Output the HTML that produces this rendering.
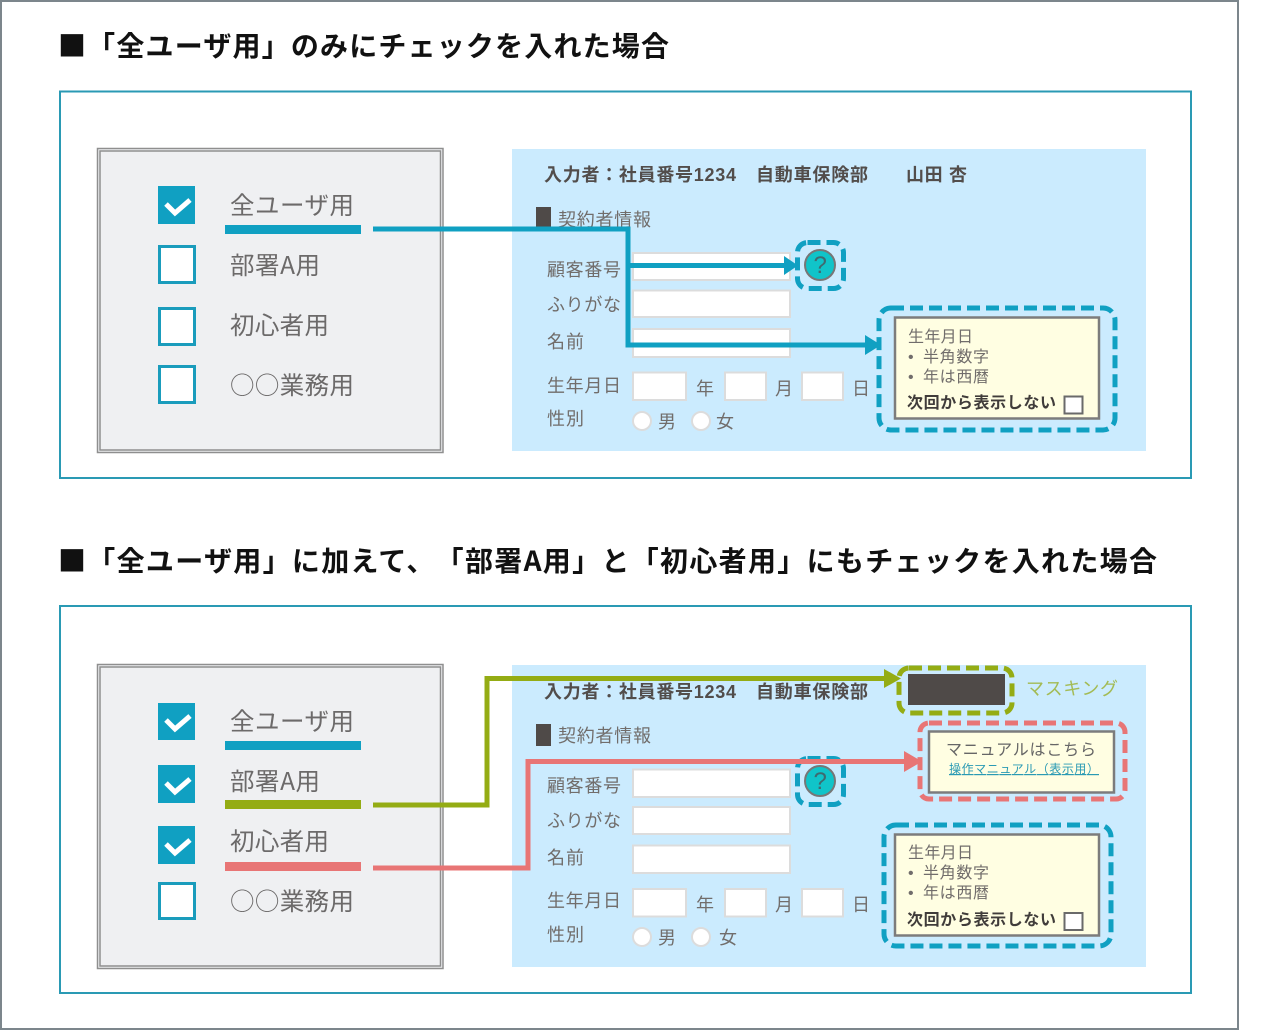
<!DOCTYPE html>
<html lang="ja"><head><meta charset="utf-8"><style>
html,body{margin:0;padding:0;background:#fff}
svg{display:block}
text{font-family:"Liberation Sans","Noto Sans CJK JP",sans-serif;fill:#6a6664;text-spacing-trim:space-all}
.h{font-family:"Noto Sans CJK JP","Liberation Sans",sans-serif;font-size:28px;font-weight:700;fill:#111}
.l{font-family:"Noto Sans CJK JP","Liberation Sans",sans-serif;font-size:24.5px;fill:#6c6a6a}
.t{font-size:18px;fill:#716d6b}
.b{font-size:18px;font-weight:700;fill:#524d4b}
.s{font-size:16px;fill:#716d6b}
.sb{font-size:16px;font-weight:700;fill:#403c3a}
.i{fill:#fff;stroke:#dcdcdc;stroke-width:2}
.c{fill:#fff;stroke:#1a9cbc;stroke-width:3}
.f{fill:#10a0c2}
.k{fill:none;stroke:#fff;stroke-width:5}
.d{fill:none;stroke-width:5;stroke-dasharray:13 6}
.n{fill:none;stroke-width:5}
.y{fill:#fffee2;stroke:#7c7c7c;stroke-width:2.500}
.q{fill:#10c4c9;stroke:#777;stroke-width:2}
.r{fill:#fff;stroke:#dcdcdc;stroke-width:2}
.m{font-size:24px;fill:#3f6a70}
</style></head><body>
<svg width="1264" height="1030" viewBox="0 0 1264 1030" xmlns="http://www.w3.org/2000/svg">
<rect width="1264" height="1030" fill="#fff"/>
<rect x="1" y="1" width="1237" height="1028" fill="none" stroke="#7c868c" stroke-width="2"/>

<text class="h" x="58" y="56" textLength="611" lengthAdjust="spacing">■「全ユーザ用」のみにチェックを入れた場合</text>
<rect x="60" y="91.500" width="1131" height="386.500" fill="#fff" stroke="#2a9ab4" stroke-width="2"/>

<!-- panel 1 left -->
<rect x="97.500" y="148.500" width="345.500" height="304" fill="#eff0f2" stroke="#8f8f8f" stroke-width="1.500"/>
<rect x="100" y="151" width="340.500" height="299" fill="none" stroke="#8f8f8f" stroke-width="1.500"/>
<rect class="f" x="158" y="186" width="37" height="38"/>
<path class="k" d="M166 204l9 9 15-13"/>
<rect class="c" x="159.500" y="246.500" width="35" height="36"/>
<rect class="c" x="159.500" y="308.500" width="35" height="36"/>
<rect class="c" x="159.500" y="366.500" width="35" height="36"/>
<text class="l" x="230" y="214" textLength="124" lengthAdjust="spacing">全ユーザ用</text>
<text class="l" x="230" y="274" textLength="90" lengthAdjust="spacing">部署A用</text>
<text class="l" x="230" y="334" textLength="99" lengthAdjust="spacing">初心者用</text>
<text class="l" x="230" y="394" textLength="124" lengthAdjust="spacing">○○業務用</text>
<rect class="f" x="225" y="225" width="136" height="9"/>

<!-- panel 1 right -->
<rect x="512" y="149" width="634" height="302" fill="#cbebfe"/>
<text class="b" x="544" y="181" textLength="192" lengthAdjust="spacing">入力者：社員番号1234</text>
<text class="b" x="756" y="181" textLength="112" lengthAdjust="spacing">自動車保険部</text>
<text class="b" x="906" y="181" textLength="61" lengthAdjust="spacing">山田 杏</text>
<rect x="536" y="207" width="15" height="21" fill="#4f4a48"/>
<text class="t" x="558" y="226" textLength="93" lengthAdjust="spacing">契約者情報</text>
<rect class="i" x="633" y="253" width="157" height="27"/>
<rect class="i" x="633" y="290.500" width="157" height="26.500"/>
<rect class="i" x="633" y="329" width="157" height="28"/>
<rect class="i" x="633" y="372.500" width="53" height="27.500"/>
<rect class="i" x="725" y="372.500" width="41" height="27.500"/>
<rect class="i" x="802" y="372.500" width="41" height="27.500"/>
<text class="t" x="547" y="276" textLength="74" lengthAdjust="spacing">顧客番号</text>
<text class="t" x="547" y="311" textLength="74" lengthAdjust="spacing">ふりがな</text>
<text class="t" x="547" y="348" textLength="37" lengthAdjust="spacing">名前</text>
<text class="t" x="547" y="392" textLength="74" lengthAdjust="spacing">生年月日</text>
<text class="t" x="547" y="425" textLength="37" lengthAdjust="spacing">性別</text>
<text class="t" x="696" y="395">年</text>
<text class="t" x="775" y="395">月</text>
<text class="t" x="852" y="395">日</text>
<circle class="r" cx="642" cy="421" r="9"/>
<circle class="r" cx="701" cy="421" r="9"/>
<text class="t" x="658" y="428">男</text>
<text class="t" x="716" y="428">女</text>
<rect class="d" x="797.500" y="242.500" width="46" height="46" rx="10" stroke="#10a0c2"/>
<ellipse class="q" cx="820" cy="265" rx="15" ry="15"/>
<text class="m" x="813.500" y="273">?</text>
<rect class="d" x="879" y="308" width="236" height="122" rx="12" stroke="#10a0c2"/>
<rect class="y" x="895" y="317.500" width="204" height="101"/>
<text class="s" x="908" y="342" textLength="65" lengthAdjust="spacing">生年月日</text>
<text class="s" x="908" y="362">•</text><text class="s" x="923" y="362" textLength="66" lengthAdjust="spacing">半角数字</text>
<text class="s" x="908" y="382">•</text><text class="s" x="923" y="382" textLength="66" lengthAdjust="spacing">年は西暦</text>
<text class="sb" x="907" y="408" textLength="149" lengthAdjust="spacing">次回から表示しない</text>
<rect x="1064.500" y="396.500" width="18" height="17" fill="#fff" stroke="#6a6a6a" stroke-width="2"/>

<path class="n" stroke="#10a0c2" d="M373 229H628V345H866"/>
<path class="n" stroke="#10a0c2" d="M628 265.500H786"/>
<path class="f" d="M784 256l14 9.500-14 9.500z"/>
<path class="f" d="M865 335l16 10-16 10z"/>

<!-- panel 2 -->
<text class="h" x="58" y="571" textLength="1099" lengthAdjust="spacing">■「全ユーザ用」に加えて、「部署A用」と「初心者用」にもチェックを入れた場合</text>
<rect x="60" y="606" width="1131" height="387" fill="#fff" stroke="#2a9ab4" stroke-width="2"/>

<rect x="97.500" y="664.500" width="345.500" height="304" fill="#eff0f2" stroke="#8f8f8f" stroke-width="1.500"/>
<rect x="100" y="667" width="340.500" height="299" fill="none" stroke="#8f8f8f" stroke-width="1.500"/>
<rect class="f" x="158" y="703" width="37" height="37"/>
<path class="k" d="M166 720l9 9 15-13"/>
<rect class="f" x="158" y="765" width="37" height="38"/>
<path class="k" d="M166 783l9 9 15-13"/>
<rect class="f" x="158" y="826" width="37" height="38"/>
<path class="k" d="M166 844l9 9 15-13"/>
<rect class="c" x="159.500" y="883.500" width="35" height="35"/>
<text class="l" x="230" y="730" textLength="124" lengthAdjust="spacing">全ユーザ用</text>
<text class="l" x="230" y="790" textLength="90" lengthAdjust="spacing">部署A用</text>
<text class="l" x="230" y="850" textLength="99" lengthAdjust="spacing">初心者用</text>
<text class="l" x="230" y="910" textLength="124" lengthAdjust="spacing">○○業務用</text>
<rect class="f" x="225" y="741" width="136" height="9"/>
<rect x="225" y="800" width="136" height="9" fill="#94ac14"/>
<rect x="225" y="862" width="136" height="9" fill="#e87575"/>

<rect x="512" y="665" width="634" height="302" fill="#cbebfe"/>
<text class="b" x="544" y="698" textLength="192" lengthAdjust="spacing">入力者：社員番号1234</text>
<text class="b" x="756" y="698" textLength="112" lengthAdjust="spacing">自動車保険部</text>
<rect x="536" y="724" width="15" height="22" fill="#4f4a48"/>
<text class="t" x="558" y="742" textLength="93" lengthAdjust="spacing">契約者情報</text>
<rect class="i" x="633" y="769.500" width="157" height="27.500"/>
<rect class="i" x="633" y="807" width="157" height="27"/>
<rect class="i" x="633" y="845.500" width="157" height="27.500"/>
<rect class="i" x="633" y="889" width="53" height="27.500"/>
<rect class="i" x="725" y="889" width="41" height="27.500"/>
<rect class="i" x="802" y="889" width="41" height="27.500"/>
<text class="t" x="547" y="792" textLength="74" lengthAdjust="spacing">顧客番号</text>
<text class="t" x="547" y="827" textLength="74" lengthAdjust="spacing">ふりがな</text>
<text class="t" x="547" y="864" textLength="37" lengthAdjust="spacing">名前</text>
<text class="t" x="547" y="907" textLength="74" lengthAdjust="spacing">生年月日</text>
<text class="t" x="547" y="941" textLength="37" lengthAdjust="spacing">性別</text>
<text class="t" x="696" y="911">年</text>
<text class="t" x="775" y="911">月</text>
<text class="t" x="852" y="911">日</text>
<circle class="r" cx="642" cy="937" r="9"/>
<circle class="r" cx="701" cy="937" r="9"/>
<text class="t" x="658" y="944">男</text>
<text class="t" x="719" y="944">女</text>
<rect class="d" x="797.500" y="758.500" width="46" height="46" rx="10" stroke="#10a0c2"/>
<ellipse class="q" cx="820" cy="781" rx="15" ry="15"/>
<text class="m" x="813.500" y="789">?</text>

<rect class="d" x="899" y="668" width="113" height="45" rx="10" stroke="#94ac14"/>
<rect x="908" y="674" width="97" height="31" fill="#4f4a48"/>
<text x="1026" y="695" font-size="18" style="fill:#a3bb55" textLength="92" lengthAdjust="spacing">マスキング</text>
<rect class="d" x="920" y="723" width="205" height="76" rx="9" stroke="#e87575"/>
<rect class="y" x="929" y="731.500" width="185" height="61"/>
<text x="946" y="755" font-size="16" style="fill:#666" textLength="150" lengthAdjust="spacing">マニュアルはこちら</text>
<text x="949" y="773" font-size="12" style="fill:#2a9ab4;text-decoration:underline" textLength="150" lengthAdjust="spacing">操作マニュアル（表示用）</text>
<rect class="d" x="884" y="825" width="227" height="121" rx="12" stroke="#10a0c2"/>
<rect class="y" x="895" y="834.500" width="204" height="101"/>
<text class="s" x="908" y="858" textLength="65" lengthAdjust="spacing">生年月日</text>
<text class="s" x="908" y="878">•</text><text class="s" x="923" y="878" textLength="66" lengthAdjust="spacing">半角数字</text>
<text class="s" x="908" y="898">•</text><text class="s" x="923" y="898" textLength="66" lengthAdjust="spacing">年は西暦</text>
<text class="sb" x="907" y="925" textLength="149" lengthAdjust="spacing">次回から表示しない</text>
<rect x="1064.500" y="913" width="18" height="17" fill="#fff" stroke="#6a6a6a" stroke-width="2"/>

<path class="n" stroke="#94ac14" d="M373 805H487V678.500H886"/>
<path d="M884 669l17 9.500-17 9.500z" fill="#94ac14"/>
<path class="n" stroke="#e87575" d="M373 868H528V761.500H906"/>
<path d="M904 751l18 10.500-18 10.500z" fill="#e87575"/>
</svg>
</body></html>
